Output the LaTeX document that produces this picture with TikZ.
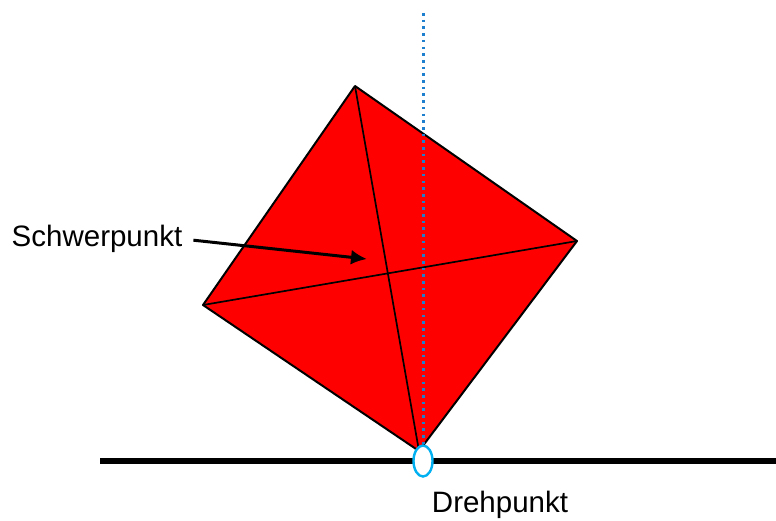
\documentclass[tikz,border=0pt]{standalone}
\usepackage{fontspec}
\setmainfont{Liberation Sans}
\usetikzlibrary{arrows.meta,positioning,calc,shapes.geometric}
\definecolor{blockRed}{HTML}{FF0000}
\definecolor{plumbBlue}{HTML}{1F7FCF}
\definecolor{pivotCyan}{HTML}{00B0F0}
\tikzset{
  block/.style={draw=black, fill=blockRed, line width=2pt, line join=round},
  diag/.style={draw=black, line width=1.7pt},
  ground/.style={draw=black, line width=6.5pt},
  plumb/.style={draw=plumbBlue, line width=3pt, dash pattern=on 2.6pt off 4.1pt},
  pivot/.style={ellipse, draw=pivotCyan, fill=white, line width=2.4pt,
    minimum width=19pt, minimum height=31pt, inner sep=0pt},
  lbl/.style={font=\fontsize{29.5}{35}\selectfont, inner sep=0pt},
  pointer/.style={-{Latex[length=16pt,width=15pt]}, line width=3pt}
}
\begin{document}
\begin{tikzpicture}[x=1pt,y=-1pt]
  \useasboundingbox (0,0) rectangle (776,520);
  % corners of the tilted block
  \coordinate (top) at (355,86);
  \coordinate (right) at (577,241);
  \coordinate (bottom) at (419,451);
  \coordinate (left) at (203,305);
  \path[block] (top) -- (right) -- (bottom) -- (left) -- cycle;
  \draw[diag] (top) -- (bottom);
  \draw[diag] (left) -- (right);
  % plumb line through the pivot
  \coordinate (plumbtop) at (423,13);
  \coordinate (pivotpt) at (423,461);
  \draw[plumb] (plumbtop) -- (pivotpt);
  % ground
  \coordinate (groundL) at (100,461);
  \coordinate (groundR) at (776,461);
  \draw[ground] (groundL) -- (groundR);
  \node[pivot] (pivot) at (pivotpt) {};
  % labels
  \node[lbl] (schwer) at (97,239) {Schwerpunkt};
  \node[lbl] (dreh) at (500,505) {Drehpunkt};
  \coordinate (tip) at (367,259);
  \draw[pointer, shorten <=11pt] (schwer.east) -- (tip);
\end{tikzpicture}
\end{document}
